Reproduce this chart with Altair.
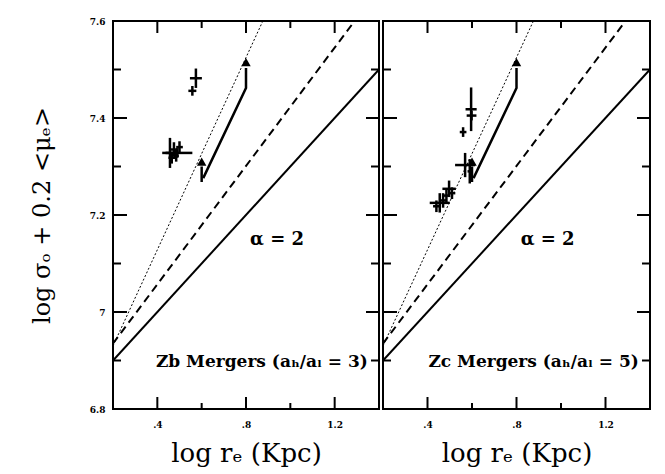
import altair as alt
import pandas as pd

# ---------------- data ----------------
# model relations (identical in both panels)
solid_x = [0.2, 1.4]
solid_y = [6.90, 7.50]
dash_x = [0.2, 1.29]
dash_y = [6.935, 7.60]
dot_x = [0.2, 0.876]
dot_y = [6.93, 7.60]

# merger track with arrows
arrow_low_x = [0.60, 0.60]
arrow_low_y = [7.268, 7.300]
arrow_path_x = [0.607, 0.80, 0.80]
arrow_path_y = [7.276, 7.462, 7.503]
arrowhead_x = [0.60, 0.80]
arrowhead_y = [7.31, 7.515]

# Zb mergers (left panel) : x, y, x error, y error
zb_x = [0.574, 0.558, 0.457, 0.490, 0.475, 0.500, 0.465, 0.485]
zb_y = [7.482, 7.456, 7.328, 7.328, 7.335, 7.340, 7.318, 7.322]
zb_xerr = [0.027, 0.018, 0.020, 0.068, 0.015, 0.015, 0.015, 0.012]
zb_yerr = [0.020, 0.010, 0.031, 0.010, 0.015, 0.012, 0.012, 0.012]

# Zc mergers (right panel)
zc_x = [0.596, 0.598, 0.560, 0.569, 0.590, 0.497, 0.510, 0.455, 0.470, 0.440, 0.485]
zc_y = [7.418, 7.405, 7.371, 7.303, 7.290, 7.254, 7.245, 7.225, 7.230, 7.218, 7.240]
zc_xerr = [0.025, 0.022, 0.015, 0.045, 0.010, 0.030, 0.015, 0.045, 0.015, 0.015, 0.012]
zc_yerr = [0.045, 0.010, 0.010, 0.025, 0.025, 0.017, 0.012, 0.020, 0.015, 0.012, 0.015]

x_major = [0.4, 0.8, 1.2]
x_minor = [0.6, 1.0]
y_major = [6.8, 7.0, 7.2, 7.4, 7.6]
y_minor = [6.9, 7.1, 7.3, 7.5]

panel_labels = ["Zb Mergers (aₕ/aₗ = 3)", "Zc Mergers (aₕ/aₗ = 5)"]
alpha_label = "α  =  2"

X_DOMAIN = [0.2, 1.4]
Y_DOMAIN = [6.8, 7.6]
H = 388
SERIF = "DejaVu Serif"


def panel(px, py, pxe, pye, label, width, show_y):
    xs = alt.Scale(domain=X_DOMAIN, nice=False, zero=False)
    ys = alt.Scale(domain=Y_DOMAIN, nice=False, zero=False)
    xspan = X_DOMAIN[1] - X_DOMAIN[0]
    yspan = Y_DOMAIN[1] - Y_DOMAIN[0]
    dx_px = xspan / width   # data units per pixel
    dy_px = yspan / H

    xaxis = alt.Axis(
        values=x_major, ticks=False, tickSize=0, domain=False, grid=False,
        labelExpr="datum.value < 1 ? substring(format(datum.value, '.1f'), 1) : format(datum.value, '.1f')",
        labelFont=SERIF, labelFontWeight="bold", labelFontSize=9, labelPadding=11,
        title="log  rₑ  (Kpc)", titleFont=SERIF, titleFontWeight="normal",
        titleFontSize=26, titlePadding=11, titleColor="black", labelColor="black",
    )
    if show_y:
        yaxis = alt.Axis(
            values=y_major, ticks=False, tickSize=0, domain=False, grid=False,
            labelExpr="datum.value == 7 ? '7' : format(datum.value, '.1f')",
            labelFont=SERIF, labelFontWeight="bold", labelFontSize=9, labelPadding=8,
            title="log  σₒ  +  0.2  <μₑ>", titleFont=SERIF, titleFontWeight="normal",
            titleFontSize=24, titlePadding=35, titleColor="black", labelColor="black",
        )
    else:
        yaxis = None

    def line(xv, yv, **kw):
        df = pd.DataFrame({"x": xv, "y": yv, "o": list(range(len(xv)))})
        return alt.Chart(df).mark_line(color="black", clip=True, **kw).encode(
            x=alt.X("x:Q", scale=xs, axis=xaxis),
            y=alt.Y("y:Q", scale=ys, axis=yaxis),
            order="o:O",
        )

    layers = [
        line(solid_x, solid_y, strokeWidth=2),
        line(dash_x, dash_y, strokeWidth=2, strokeDash=[8, 5]),
        line(dot_x, dot_y, strokeWidth=1, strokeDash=[2, 2]),
        line(arrow_low_x, arrow_low_y, strokeWidth=2.5),
        line(arrow_path_x, arrow_path_y, strokeWidth=2.5),
    ]

    heads = pd.DataFrame({"x": arrowhead_x, "y": arrowhead_y})
    layers.append(
        alt.Chart(heads).mark_point(shape="triangle-up", filled=True, color="black",
                                    size=90, opacity=1).encode(
            x=alt.X("x:Q", scale=xs), y=alt.Y("y:Q", scale=ys))
    )

    pts = pd.DataFrame({"x": px, "y": py, "xe": pxe, "ye": pye})
    pts["x1"] = pts.x - pts.xe
    pts["x2"] = pts.x + pts.xe
    pts["y1"] = pts.y - pts.ye
    pts["y2"] = pts.y + pts.ye
    layers.append(
        alt.Chart(pts).mark_rule(color="black", strokeWidth=2.5).encode(
            x=alt.X("x1:Q", scale=xs), x2="x2:Q", y=alt.Y("y:Q", scale=ys))
    )
    layers.append(
        alt.Chart(pts).mark_rule(color="black", strokeWidth=2.5).encode(
            x=alt.X("x:Q", scale=xs), y=alt.Y("y1:Q", scale=ys), y2="y2:Q")
    )

    # inward ticks on all four sides (lengths given in pixels)
    def yticks(vals, edge, length_px):
        d = pd.DataFrame({"v": vals})
        d["a"] = edge
        d["b"] = edge + length_px * dx_px
        return alt.Chart(d).mark_rule(color="black", strokeWidth=2).encode(
            y=alt.Y("v:Q", scale=ys), x=alt.X("a:Q", scale=xs), x2="b:Q")

    def xticks(vals, edge, length_px):
        d = pd.DataFrame({"v": vals})
        d["a"] = edge
        d["b"] = edge + length_px * dy_px
        return alt.Chart(d).mark_rule(color="black", strokeWidth=2).encode(
            x=alt.X("v:Q", scale=xs), y=alt.Y("a:Q", scale=ys), y2="b:Q")

    layers += [
        yticks(y_major, X_DOMAIN[0], 14), yticks(y_minor, X_DOMAIN[0], 8),
        yticks(y_major, X_DOMAIN[1], -13), yticks(y_minor, X_DOMAIN[1], -8),
        xticks(x_major, Y_DOMAIN[1], -12), xticks(x_minor, Y_DOMAIN[1], -7),
        xticks(x_major, Y_DOMAIN[0], 12), xticks(x_minor, Y_DOMAIN[0], 6),
    ]

    txt_a = pd.DataFrame({"x": [0.94], "y": [7.148], "t": [alpha_label]})
    layers.append(
        alt.Chart(txt_a).mark_text(font=SERIF, fontWeight="bold", fontSize=18,
                                   align="center", baseline="middle", color="black").encode(
            x=alt.X("x:Q", scale=xs), y=alt.Y("y:Q", scale=ys), text="t:N")
    )
    txt_m = pd.DataFrame({"x": [1.35], "y": [6.897], "t": [label]})
    layers.append(
        alt.Chart(txt_m).mark_text(font=SERIF, fontWeight="bold", fontSize=17,
                                   align="right", baseline="middle", color="black").encode(
            x=alt.X("x:Q", scale=xs), y=alt.Y("y:Q", scale=ys), text="t:N")
    )

    return alt.layer(*layers).properties(width=width, height=H)


left = panel(zb_x, zb_y, zb_xerr, zb_yerr, panel_labels[0], 266, True)
right = panel(zc_x, zc_y, zc_xerr, zc_yerr, panel_labels[1], 267, False)

chart = alt.hconcat(left, right, spacing=0).properties(
    padding={"left": 29, "top": 16, "right": 5, "bottom": 5},
    background="white",
).configure_view(stroke="black", strokeWidth=2)

chart.save("out.html", embed_options={"renderer": "svg", "actions": False})
